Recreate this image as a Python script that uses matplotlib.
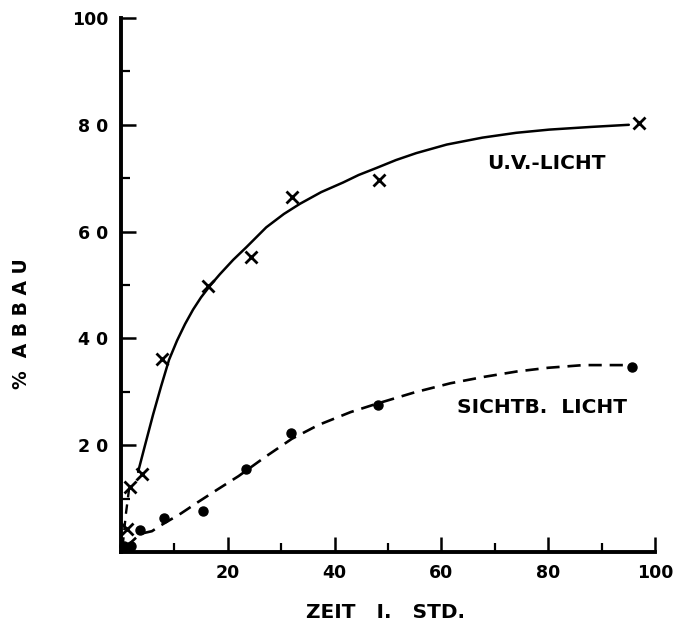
import matplotlib
matplotlib.use("Agg")
import matplotlib.pyplot as plt
from matplotlib.ticker import FixedLocator, MultipleLocator

# --- data ---
uv_t = [1.1, 1.6, 3.9, 7.7, 16.2, 24.3, 32.1, 48.3, 97.0]
uv_abbau = [4.3, 12.2, 14.6, 36.2, 49.9, 55.2, 66.4, 69.6, 80.3]

vis_t = [0.5, 1.9, 3.6, 8.1, 15.4, 23.5, 31.9, 48.1, 95.6]
vis_abbau = [1.2, 1.2, 4.1, 6.4, 7.7, 15.5, 22.3, 27.5, 34.7]

# hand-drawn fit curves
uv_fit_start_t = [0.3, 0.9, 1.6]
uv_fit_start_y = [1.0, 7.0, 12.5]
uv_fit_t = [3.2, 4.5, 6.0, 7.5, 9.0, 10.5, 12.0, 13.5, 15.0, 16.7, 18.5, 21.0,
            23.5, 27.2, 30.5, 33.5, 37.5, 41.6, 44.5, 47.8, 51.5, 55.3, 61.0,
            67.7, 74.0, 80.2, 88.0, 95.1]
uv_fit_y = [15.0, 20.0, 25.7, 31.0, 36.0, 39.6, 42.7, 45.4, 47.7, 49.9, 52.0, 54.7,
            57.1, 60.8, 63.3, 65.2, 67.4, 69.2, 70.6, 71.9, 73.4, 74.7, 76.3,
            77.6, 78.5, 79.1, 79.6, 80.0]

vis_fit_t = [1.0, 3.6, 5.8, 7.3, 11.2, 14.5, 17.9, 22.0, 27.0, 32.0, 37.0,
             43.0, 48.0, 55.0, 61.7, 68.0, 74.1, 80.0, 86.6, 95.6]
vis_fit_y = [1.0, 3.4, 3.9, 4.9, 7.2, 9.4, 11.6, 14.2, 17.8, 21.2, 23.8,
             26.2, 27.8, 29.9, 31.6, 32.8, 33.8, 34.5, 35.0, 35.0]

x_ticks = [20, 40, 60, 80, 100]
x_ticklabels = ["20", "40", "60", "80", "100"]
y_ticks = [20, 40, 60, 80, 100]
y_ticklabels = ["2 0", "4 0", "6 0", "8 0", "100"]

fig = plt.figure(figsize=(6.76, 6.32), dpi=100)
ax = fig.add_axes([121 / 676, 1 - 552 / 632, (655 - 121) / 676, (552 - 18) / 632])

ax.set_xlim(0, 100)
ax.set_ylim(0, 100)

# fit lines
ax.plot(uv_fit_t, uv_fit_y, color="black", lw=1.8, solid_capstyle="round",
        solid_joinstyle="round", zorder=2)
ax.plot(uv_fit_start_t, uv_fit_start_y, color="black", lw=1.7, dashes=(4, 3), zorder=2)
ax.plot(vis_fit_t, vis_fit_y, color="black", lw=1.9, dashes=(5, 3), zorder=2)

# data points
ax.plot(uv_t, uv_abbau, linestyle="none", marker="x", markersize=8,
        markeredgewidth=2.0, color="black", zorder=3, clip_on=False)
ax.plot(vis_t, vis_abbau, linestyle="none", marker="o", markersize=6.5,
        color="black", zorder=3, clip_on=False)

# labels on curves
ax.text(79.6, 72.8, "U.V.-LICHT", ha="center", va="center", fontsize=14.5,
        fontweight="bold", color="black", family="DejaVu Sans")
ax.text(78.8, 27.0, "SICHTB.  LICHT", ha="center", va="center", fontsize=14.5,
        fontweight="bold", color="black", family="DejaVu Sans")

# spines
for s in ["top", "right"]:
    ax.spines[s].set_visible(False)
for s in ["left", "bottom"]:
    ax.spines[s].set_linewidth(2.8)
    ax.spines[s].set_color("black")

ax.xaxis.set_major_locator(FixedLocator(x_ticks))
ax.set_xticklabels(x_ticklabels)
ax.yaxis.set_major_locator(FixedLocator(y_ticks))
ax.set_yticklabels(y_ticklabels)
ax.xaxis.set_minor_locator(MultipleLocator(10))
ax.yaxis.set_minor_locator(MultipleLocator(10))

ax.tick_params(which="major", direction="in", length=11, width=1.8,
               labelsize=12.5, pad=9, colors="black")
ax.tick_params(which="minor", direction="in", length=6.5, width=1.6, colors="black")
for lab in ax.get_xticklabels() + ax.get_yticklabels():
    lab.set_fontweight("bold")

fig.text(22 / 676, 1 - 324 / 632, "%  A B B A U", rotation=90, ha="center",
         va="center", fontsize=13.5, fontweight="bold", color="black")
fig.text(386 / 676, 1 - 613 / 632, "ZEIT   I.   STD.", ha="center", va="center",
         fontsize=14.5, fontweight="bold", color="black")

fig.savefig("out.png", dpi=100, facecolor="white")
